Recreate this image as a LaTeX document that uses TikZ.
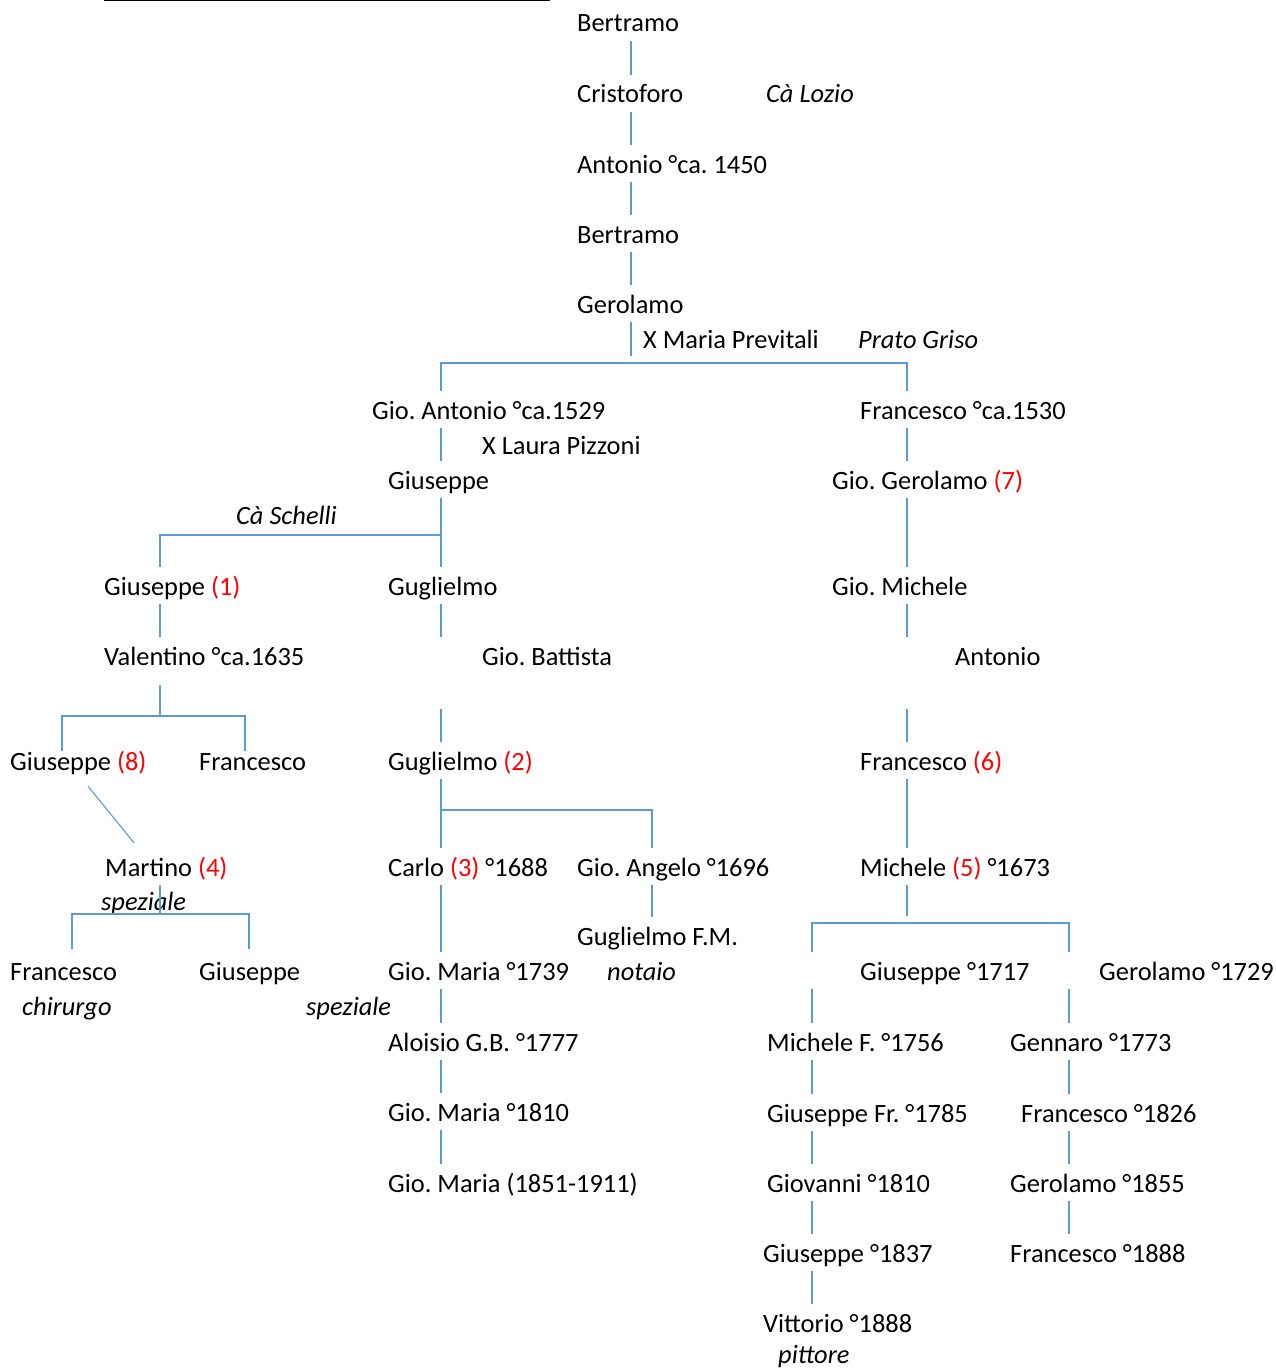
\documentclass[tikz,border=0pt]{standalone}
\usepackage{fontspec}
\setmainfont{Carlito}
\usepackage{xcolor}
\definecolor{linea}{RGB}{91,155,213}
\newcommand{\rnum}[1]{\textcolor{red}{(#1)}}
\frenchspacing

\begin{document}
\begin{tikzpicture}[x=1pt,y=-1pt,
	nome/.style={anchor=base west,inner xsep=0pt,inner ysep=6pt,text height=22pt,text depth=3pt,font=\fontsize{26.4}{32}\selectfont},
	nota/.style={nome,font=\fontsize{26.4}{32}\selectfont\itshape},
	link/.style={draw=linea,line width=1.1pt}]
			\useasboundingbox (0,0) rectangle (1276,1370);
			\draw[line width=1.5pt] (104,0.75) -- (550,0.75);
			
			% colonne e sbarre
			\coordinate (T) at (631,0);
			\coordinate (A) at (441,0);
			\coordinate (F) at (907,0);
			\coordinate (G) at (160,0);
			\coordinate (B) at (652,0);
			\coordinate (H) at (62,0);
			\coordinate (I) at (245,0);
			\coordinate (J) at (72,0);
			\coordinate (K) at (249,0);
			\coordinate (L) at (812,0);
			\coordinate (M) at (1069,0);
			\coordinate (s1) at (0,363);
			\coordinate (s2) at (0,535);
			\coordinate (s3) at (0,716);
			\coordinate (s4) at (0,810);
			\coordinate (s5) at (0,914);
			\coordinate (s6) at (0,923);
			
			\node[nome] (bert1) at (577,32) {Bertramo};
			\node[nome] (crist) at (577,103) {Cristoforo};
			\node[nota] (lozio) at (766,103) {Cà Lozio};
			\node[nome] (anto1) at (577,173) {Antonio °ca. 1450};
			\node[nome] (bert2) at (577,243) {Bertramo};
			\node[nome] (gero1) at (577,313) {Gerolamo};
			\node[nome] (mpre) at (643,348) {X Maria Previtali};
			\node[nota] (prato) at (858,348) {Prato Griso};
			\node[nome] (gant) at (372,419) {Gio. Antonio °ca.1529};
			\node[nome] (fra1) at (860,419) {Francesco °ca.1530};
			\node[nome] (lpiz) at (482,454) {X Laura Pizzoni};
			\node[nome] (giu1) at (388,489) {Giuseppe};
			\node[nome] (gger) at (832,489) {Gio. Gerolamo \rnum{7}};
			\node[nota] (schel) at (236,524) {Cà Schelli};
			\node[nome] (giu2) at (104,595) {Giuseppe \rnum{1}};
			\node[nome] (gug1) at (388,595) {Guglielmo};
			\node[nome] (gmic) at (832,595) {Gio. Michele};
			\node[nome] (vale) at (104,665) {Valentino °ca.1635};
			\node[nome] (gbat) at (482,665) {Gio. Battista};
			\node[nome] (anto2) at (955,665) {Antonio};
			\node[nome] (giu3) at (10,770) {Giuseppe \rnum{8}};
			\node[nome] (fra2) at (199,770) {Francesco};
			\node[nome] (gug2) at (388,770) {Guglielmo \rnum{2}};
			\node[nome] (fra3) at (860,770) {Francesco \rnum{6}};
			\node[nome] (mart) at (105,876) {Martino \rnum{4}};
			\node[nome] (carl) at (388,876) {Carlo \rnum{3} °1688};
			\node[nome] (gang) at (577,876) {Gio. Angelo °1696};
			\node[nome] (mich) at (860,876) {Michele \rnum{5} °1673};
			\node[nota] (spez1) at (101,910) {speziale};
			\node[nome] (gfm) at (577,945) {Guglielmo F.M.};
			\node[nome] (fra4) at (10,980) {Francesco};
			\node[nome] (giu4) at (199,980) {Giuseppe};
			\node[nome] (gmar1) at (388,980) {Gio. Maria °1739};
			\node[nota] (notaio) at (607,980) {notaio};
			\node[nome] (giu5) at (860,980) {Giuseppe °1717};
			\node[nome] (ger2) at (1099,980) {Gerolamo °1729};
			\node[nota] (chir) at (22,1015) {chirurgo};
			\node[nota] (spez2) at (306,1015) {speziale};
			\node[nome] (alo) at (388,1051) {Aloisio G.B. °1777};
			\node[nome] (micf) at (767,1051) {Michele F. °1756};
			\node[nome] (genn) at (1010,1051) {Gennaro °1773};
			\node[nome] (gmar2) at (388,1121) {Gio. Maria °1810};
			\node[nome] (giufr) at (767,1122) {Giuseppe Fr. °1785};
			\node[nome] (fra5) at (1021,1122) {Francesco °1826};
			\node[nome] (gmar3) at (388,1192) {Gio. Maria (1851-1911)};
			\node[nome] (giov) at (767,1192) {Giovanni °1810};
			\node[nome] (ger3) at (1010,1192) {Gerolamo °1855};
			\node[nome] (giu6) at (763,1262) {Giuseppe °1837};
			\node[nome] (fra6) at (1010,1262) {Francesco °1888};
			\node[nome] (vitt) at (763,1332) {Vittorio °1888};
			\node[nota] (pitt) at (778,1363) {pittore};
			
			% tronco
			\draw[link] (bert1.south -| T) -- (crist.north -| T);
			\draw[link] (crist.south -| T) -- (anto1.north -| T);
			\draw[link] (anto1.south -| T) -- (bert2.north -| T);
			\draw[link] (bert2.south -| T) -- (gero1.north -| T);
			\draw[link] (gero1.south -| T) -- ++(0,34);
			\draw[link] (gant.north -| A) |- (s1 -| F) -- (fra1.north -| F);
			
			% ramo Gio. Antonio
			\draw[link] (gant.south -| A) -- (giu1.north -| A);
			\draw[link] (giu1.south -| A) -- (gug1.north -| A);
			\draw[link] (s2 -| A) -| (giu2.north -| G);
			\draw[link] (gug1.south -| A) -- (gbat.north -| A);
			\draw[link] (gug2.north -| A) -- ++(0,-33);
			\draw[link] (gug2.south -| A) -- (carl.north -| A);
			\draw[link] (s4 -| A) -| (gang.north -| B);
			\draw[link] (gang.south -| B) -- (gfm.north -| B);
			\draw[link] (carl.south -| A) -- (gmar1.north -| A);
			\draw[link] (gmar1.south -| A) -- (alo.north -| A);
			\draw[link] (alo.south -| A) -- (gmar2.north -| A);
			\draw[link] (gmar2.south -| A) -- (gmar3.north -| A);
			
			% ramo Giuseppe (1)
			\draw[link] (giu2.south -| G) -- (vale.north -| G);
			\draw[link] (s3 -| G) -- ++(0,-31);
			\draw[link] (s3 -| H) ++(0,35) |- (s3 -| I) -- ++(0,35);
			\draw[link] ([xshift=78pt,yshift=-7pt]giu3.south west) -- ([xshift=29pt,yshift=5pt]mart.north west);
			\draw[link] (mart.south -| G) -- (s5 -| G);
			\draw[link] (s5 -| J) ++(0,35) |- (s5 -| K) -- ++(0,35);
			
			% ramo Francesco
			\draw[link] (fra1.south -| F) -- (gger.north -| F);
			\draw[link] (gger.south -| F) -- (gmic.north -| F);
			\draw[link] (gmic.south -| F) -- (anto2.north -| F);
			\draw[link] (fra3.north -| F) -- ++(0,-33);
			\draw[link] (fra3.south -| F) -- (mich.north -| F);
			\draw[link] (mich.south -| F) -- ++(0,31);
			\draw[link] (giu5.north -| L) |- (s6 -| M) -- (ger2.north -| M);
			\draw[link] (giu5.south -| L) -- (micf.north -| L);
			\draw[link] (ger2.south -| M) -- (genn.north -| M);
			\draw[link] (micf.south -| L) -- (giufr.north -| L);
			\draw[link] (genn.south -| M) -- (fra5.north -| M);
			\draw[link] (giufr.south -| L) -- (giov.north -| L);
			\draw[link] (fra5.south -| M) -- (ger3.north -| M);
			\draw[link] (giov.south -| L) -- (giu6.north -| L);
			\draw[link] (ger3.south -| M) -- (fra6.north -| M);
			\draw[link] (giu6.south -| L) -- (vitt.north -| L);
		\end{tikzpicture}
\end{document}
